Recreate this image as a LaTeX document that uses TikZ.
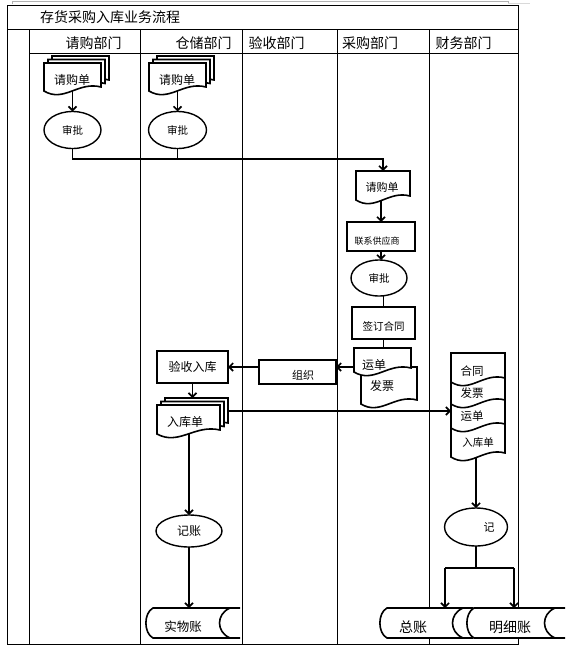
\documentclass[tikz,border=0pt]{standalone}
\usepackage{fontspec}
\newfontfamily\cjk{Noto Sans CJK SC}
\usetikzlibrary{shapes.geometric,arrows.meta,calc}
\pgfdeclarelayer{back}
\pgfdeclarelayer{mid}
\pgfsetlayers{back,mid,main}
\newcommand\fs[1]{\fontsize{#1}{#1}\selectfont}
\newcommand\docdraw[2][0,0]{%
  \begin{pgfonlayer}{mid}
  \path ($(#2.north west)+(#1)$) coordinate (dA) ($(#2.north east)+(#1)$) coordinate (dB)
        ($(#2.south east)+(#1)$) coordinate (dC) ($(#2.south west)+(#1)$) coordinate (dD);
  \draw[shp,fill=white] (dA) -- (dB) -- ($(dC)+(0,-4)$)
     .. controls ($(dC)!0.4!(dD)+(0,-10)$) and ($(dC)!0.65!(dD)+(0,12)$) .. (dD) -- cycle;
  \end{pgfonlayer}}
\newcommand\multidoc[1]{\docdraw[8,-7]{#1}\docdraw[4,-3.5]{#1}\docdraw{#1}}
\newcommand\storedraw[1]{%
  \begin{pgfonlayer}{mid}
  \path (#1.north west) coordinate (sA) (#1.north east) coordinate (sB)
        (#1.south east) coordinate (sC) (#1.south west) coordinate (sD);
  \fill[white] ($(sA)+(7,0)$) -- (sB) -- (sC) -- ($(sD)+(7,0)$)
     .. controls ($(sD)+(-2.5,-5)$) and ($(sA)+(-2.5,5)$) .. ($(sA)+(7,0)$) -- cycle;
  \draw[shp] (sB) -- ($(sA)+(7,0)$) .. controls ($(sA)+(-2.5,5)$) and ($(sD)+(-2.5,-5)$) .. ($(sD)+(7,0)$) -- (sC);
  \draw[shp] ($(sB)+(-10,0)$) .. controls ($(sB)+(-24,6)$) and ($(sC)+(-24,-6)$) .. ($(sC)+(-10,0)$);
  \end{pgfonlayer}}
\begin{document}
\begin{tikzpicture}[x=1pt,y=-1pt,
  every node/.style={inner sep=0pt, outer sep=0pt},
  txt/.style={font=\cjk\fs{#1}},
  frame/.style={line width=0.9pt},
  shp/.style={line width=1.6pt},
  ell/.style={ellipse, draw, line width=1.4pt, fill=white},
  box/.style={rectangle, draw, line width=1.8pt, fill=white},
  hold/.style={rectangle},
  conn/.style={line width=1.6pt},
  arr/.style={line width=1.6pt, -{Straight Barb[length=4pt,width=8pt]}}]
\useasboundingbox (0,0) rectangle (577,653);
% frame
\begin{pgfonlayer}{back}
\draw[frame] (7,5) rectangle (518,644);
\draw[frame] (7,29) -- (518,29);
\draw[frame] (29,53) -- (518,53);
\foreach \x in {29,140,242,337,429} \draw[frame] (\x,29) -- (\x,644);
\draw[gray!60, line width=0.7pt] (12,4) -- (12,1) -- (508,1) -- (508,4);
\draw[gray!30, line width=0.7pt] (508,3.5) -- (530,3.5);
\end{pgfonlayer}
% titles
\node[txt=14, anchor=west] (title) at (40,17) {存货采购入库业务流程};
\node[txt=14] (h1) at (93.5,43) {请购部门};
\node[txt=14] (h2) at (203.5,43) {仓储部门};
\node[txt=14] (h3) at (276.5,43) {验收部门};
\node[txt=14] (h4) at (370,43) {采购部门};
\node[txt=14] (h5) at (463.5,43) {财务部门};
% lane 1
\node[hold, minimum width=57pt, minimum height=28pt, label={[txt=12,name=qg1t,xshift=-0.5pt,yshift=-3pt]center:请购单}] (qg1) at (72.5,77) {};
\multidoc{qg1}
\node[ell, minimum width=57pt, minimum height=37pt, txt=10.5] (sp1) at (72.5,130) {审批};
% lane 2
\node[hold, minimum width=57pt, minimum height=28pt, label={[txt=12,name=qg2t,xshift=-0.5pt,yshift=-3pt]center:请购单}] (qg2) at (177.5,77) {};
\multidoc{qg2}
\node[ell, minimum width=58pt, minimum height=37pt, txt=10.5] (sp2) at (177.5,130) {审批};
% purchasing lane
\node[hold, minimum width=54pt, minimum height=29pt, label={[txt=11,name=cg1t,xshift=-1pt,yshift=-1.5pt]center:请购单}] (cg1) at (383,185.5) {};
\docdraw{cg1}
\node[box, minimum width=68pt, minimum height=29pt, label={[txt=9,name=lxt,xshift=-4pt,yshift=-4.5pt]center:联系供应商}] (lx) at (381,236.5) {};
\node[ell, minimum width=56pt, minimum height=36pt, txt=10.5] (sp3) at (379,278) {审批};
\node[box, minimum width=63pt, minimum height=32pt, label={[txt=10.5,name=qdt,yshift=-3pt]center:签订合同}] (qd) at (383.5,323) {};
\node[hold, minimum width=56pt, minimum height=37pt, label={[txt=12,name=fpt,xshift=-7pt]center:发票}] (fp) at (389,385.5) {};
\node[hold, minimum width=57pt, minimum height=24pt, label={[txt=12,name=ydt,xshift=-8.5pt,yshift=-5pt]center:运单}] (yd) at (382.5,360) {};
\docdraw{fp}\docdraw{yd}
% inspection / warehouse
\node[box, minimum width=77pt, minimum height=24pt, label={[txt=11,name=zzt,xshift=5.5pt,yshift=-3pt]center:组织}] (zz) at (297.5,372) {};
\node[box, minimum width=71pt, minimum height=32pt, txt=12] (ys) at (192.5,367) {验收入库};
\node[hold, minimum width=63pt, minimum height=29pt, label={[txt=12,name=rkt,xshift=-3.5pt,yshift=-2.5pt]center:入库单}] (rk) at (188.5,419.5) {};
\multidoc{rk}
\node[ell, minimum width=66pt, minimum height=32pt, txt=12] (jz) at (189,531) {记账};
\node[hold, minimum width=94pt, minimum height=30pt, label={[txt=12.5,name=swzt,xshift=-10pt,yshift=-4pt]center:实物账}] (swz) at (193,623) {};
\storedraw{swz}
% finance lane
\node[hold, minimum width=54pt, minimum height=35pt, label={[txt=10.5,name=rk2t,yshift=-3.5pt]center:入库单}] (rk2) at (478,439.5) {};
\node[hold, minimum width=54pt, minimum height=30pt, label={[txt=11.5,name=yd2t,xshift=-6pt,yshift=-3pt]center:运单}] (yd2) at (478,413) {};
\node[hold, minimum width=54pt, minimum height=28pt, label={[txt=11.5,name=fp2t,xshift=-6pt,yshift=-3pt]center:发票}] (fp2) at (478,390) {};
\node[hold, minimum width=54pt, minimum height=29pt, label={[txt=11.5,name=htt,xshift=-6pt,yshift=-3.5pt]center:合同}] (ht) at (478,367.5) {};
\docdraw{rk2}\docdraw{yd2}\docdraw{fp2}\docdraw{ht}
\node[ell, minimum width=63pt, minimum height=38pt, label={[txt=11,name=jit,xshift=13pt]center:记}] (ji) at (476,527) {};
\node[hold, minimum width=93pt, minimum height=30pt, label={[txt=14,name=zongzt,xshift=-13.5pt,yshift=-4pt]center:总账}] (zongz) at (426.5,623) {};
\node[hold, minimum width=98pt, minimum height=30pt, label={[txt=14,name=mxzt,xshift=-6pt,yshift=-4pt]center:明细账}] (mxz) at (516,623) {};
\storedraw{zongz}\storedraw{mxz}
% connectors
\coordinate (j1) at (383,159);
\draw[arr] (qg1.south) -- (sp1.north);
\draw[arr] (qg2.south) -- (sp2.north);
\draw[arr] (sp1.south) |- (j1) -- (cg1.north);
\draw[conn] (sp2.south) -- (sp2.south |- j1);
\draw[arr] (lx.north |- cg1.south) -- (lx.north);
\draw[arr] (lx.south) -- (lx.south |- sp3.north);
\draw[conn] (qd.north |- sp3.south) -- (qd.north);
\draw[conn] (qd.south) -- (qd.south |- yd.north);
\draw[arr] (yd.west |- ys.east) -- (zz.east |- ys.east);
\draw[arr] (zz.west |- ys.east) -- (ys.east);
\coordinate (rkin) at ($(ys.south |- rk.north)+(0,-7)$);
\draw[arr] (ys.south) -- (rkin);
\coordinate (rkout) at ($(rk.east)+(8,-8.5)$);
\draw[arr] (rkout) -- (rkout -| yd2.west);
\draw[arr] (jz.north |- rk.south) -- (jz.north);
\draw[arr] (jz.south) -- (jz.south |- swz.north);
\draw[arr] (ji.north |- rk2.south) -- (ji.north);
\coordinate (a1) at (445,568);
\coordinate (a2) at (514,568);
\draw[conn] (ji.south) -- (ji.south |- a1);
\draw[conn] (a1) -- (a2);
\draw[arr] (a1) -- (a1 |- zongz.north);
\draw[arr] (a2) -- (a2 |- mxz.north);
% caption (cut off by the page edge, as in the reference)
\node[txt=14, anchor=west] (cap) at (145,661) {图 3-1 河南某某公司采购入库业务流程图};
\end{tikzpicture}
\end{document}
